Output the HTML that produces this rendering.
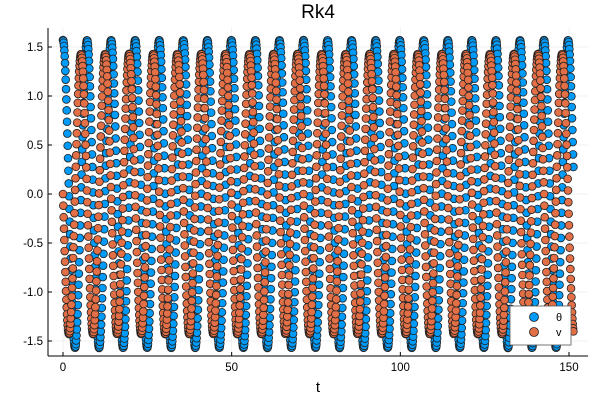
<!DOCTYPE html>
<html><head><meta charset="utf-8"><style>
html,body{margin:0;padding:0;background:#fff;}
svg{display:block;font-family:"Liberation Sans","DejaVu Sans",sans-serif;}
</style></head><body>
<svg id="chart" width="600" height="400" viewBox="0 0 600 400" xmlns="http://www.w3.org/2000/svg">
<rect width="600" height="400" fill="#fff"/>
<g id="grid"></g>
<g id="marks"></g>
<g id="axes"></g>
</svg>
<script>
// Data: one quarter of the oscillation cycle
const thetaQuarter = [1.5708,1.5641,1.5442,1.5113,1.4661,1.4089,1.3406,1.2622,1.1744,1.0785,0.9754,0.8659,0.7512,0.6322,0.5097,0.3845,0.2573,0.1291,0];
const vQuarter = [0,0.1178,0.2348,0.3508,0.4649,0.5766,0.6850,0.7895,0.8890,0.9829,1.0701,1.1499,1.2211,1.2831,1.3350,1.3760,1.4059,1.4239,1.43];
const period = [7.13];
const timeStep = [0.1];
const timeEnd = [151.3];
const xTicks = [0,50,100,150];
const yTicks = [-1.5,-1.0,-0.5,0.0,0.5,1.0,1.5];
const yTickLabels = ["-1.5","-1.0","-0.5","0.0","0.5","1.0","1.5"];
const seriesNames = ["θ","v"];

const NS="http://www.w3.org/2000/svg";
const L=48,R=588,T=28,B=356;
function xs(t){return 63+(t-0)*(569-63)/150;}
function ys(v){return 194-v*98;}
function mk(tag,attrs,parent){const e=document.createElementNS(NS,tag);for(const k in attrs)e.setAttribute(k,attrs[k]);parent.appendChild(e);return e;}

function cycK(q,k,sgn){
  k=((k%72)+72)%72;
  if(k<=18) return sgn[0]*q[k];
  if(k<=36) return sgn[1]*q[36-k];
  if(k<=54) return sgn[2]*q[k-36];
  return sgn[3]*q[72-k];
}
function cyc(q,t,sgn){
  const p=(t/period[0])*72;
  const k0=Math.floor(p),f=p-k0;
  return cycK(q,k0,sgn)*(1-f)+cycK(q,k0+1,sgn)*f;
}
const grid=document.getElementById('grid'),marks=document.getElementById('marks'),axes=document.getElementById('axes');
xTicks.forEach(t=>{const l=mk('line',{x1:xs(t),x2:xs(t),y1:T,y2:B,stroke:'#000','stroke-opacity':0.1,'stroke-width':0.5},grid);
});
yTicks.forEach(v=>{const l=mk('line',{x1:L,x2:R,y1:ys(v),y2:ys(v),stroke:'#000','stroke-opacity':0.1,'stroke-width':0.5},grid);
});

const N=Math.floor(timeEnd[0]/timeStep[0])+1;
const colors=["#009af9","#e26f46"];
const gT=mk('g',{},marks);
const gV=mk('g',{},marks);
for(let i=0;i<N;i++){
  const t=i*timeStep[0];
  const c=mk('circle',{cx:xs(t).toFixed(2),cy:ys(cyc(thetaQuarter,t,[1,-1,-1,1])).toFixed(2),r:3.9,fill:colors[0],stroke:'#222','stroke-width':0.8},gT);
  
  
}
for(let i=0;i<N;i++){
  const t=i*timeStep[0];
  const c=mk('circle',{cx:xs(t).toFixed(2),cy:ys(cyc(vQuarter,t,[-1,-1,1,1])).toFixed(2),r:3.9,fill:colors[1],stroke:'#222','stroke-width':0.8},gV);
  
  
}
// axes
let a=mk('line',{x1:L,x2:L,y1:T,y2:B,stroke:'#000','stroke-width':1},axes);
a=mk('line',{x1:L,x2:R,y1:B,y2:B,stroke:'#000','stroke-width':1},axes);
xTicks.forEach(t=>{mk('line',{x1:xs(t),x2:xs(t),y1:B,y2:B-4,stroke:'#000'},axes);
const tx=mk('text',{x:xs(t),y:B+15,'text-anchor':'middle','font-size':11.5,fill:'#000'},axes);tx.textContent=String(t);
});
yTicks.forEach((v,i)=>{mk('line',{x1:L,x2:L+4,y1:ys(v),y2:ys(v),stroke:'#000'},axes);
const tx=mk('text',{x:L-5,y:ys(v)+4,'text-anchor':'end','font-size':11.5,fill:'#000'},axes);tx.textContent=yTickLabels[i];
});
let tt=mk('text',{x:318,y:18,'text-anchor':'middle','font-size':19,fill:'#000'},axes);tt.textContent='Rk4';

tt=mk('text',{x:318,y:392,'text-anchor':'middle','font-size':15,fill:'#000'},axes);tt.textContent='t';

// legend
const lg=mk('g',{},axes);
mk('rect',{x:510,y:306,width:61,height:39,fill:'#fff',stroke:'#555','stroke-width':0.8},lg);
seriesNames.forEach((n,i)=>{const y=317+i*15;
const e=mk('g',{},lg);
mk('circle',{cx:534,cy:y,r:4.5,fill:colors[i],stroke:'#222','stroke-width':0.8},e);
const tx=mk('text',{x:556,y:y+4,'font-size':11,fill:'#000'},e);tx.textContent=n;});
</script>
</body></html>
